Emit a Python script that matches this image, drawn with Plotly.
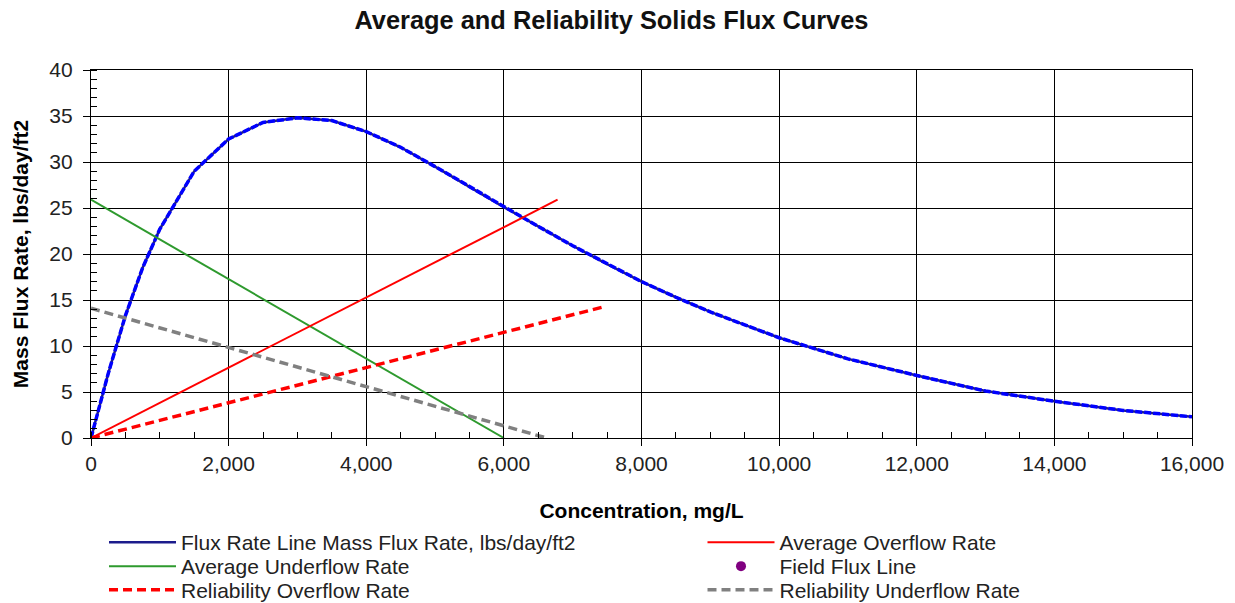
import plotly.graph_objects as go

# Flux curve
flux_x = [0, 250, 500, 750, 1000, 1500, 2000, 2500, 3000, 3500, 4000, 4500, 5000, 5500, 6000,
          6500, 7000, 7500, 8000, 8500, 9000, 9500, 10000, 11000, 12000, 13000, 14000, 15000, 16000]
flux_y = [0, 7.0, 13.3, 18.5, 22.7, 29.0, 32.5, 34.3, 34.8, 34.5, 33.3, 31.6, 29.5, 27.3, 25.1,
          23.0, 20.9, 18.9, 17.0, 15.3, 13.7, 12.3, 10.9, 8.6, 6.8, 5.1, 4.0, 3.0, 2.3]

avg_over_x = [0, 6780]
avg_over_y = [0, 25.9]
avg_under_x = [0, 6000]
avg_under_y = [25.9, 0]
rel_over_x = [0, 7420]
rel_over_y = [0, 14.2]
rel_under_x = [0, 6620]
rel_under_y = [14.1, 0]

FONT = "Liberation Sans, Arial, sans-serif"
FS = 21

fig = go.Figure()
fig.add_trace(go.Scatter(x=flux_x, y=flux_y, mode="lines", name="Flux Rate Line Mass Flux Rate, lbs/day/ft2",
                         line=dict(color="#1c1c8c", width=2.5), legend="legend"))
fig.add_trace(go.Scatter(x=flux_x, y=flux_y, mode="lines", showlegend=False, hoverinfo="skip",
                         line=dict(color="#0000ff", width=3.5, dash="7px,2px")))
fig.add_trace(go.Scatter(x=avg_under_x, y=avg_under_y, mode="lines", name="Average Underflow Rate",
                         line=dict(color="#2e9a2e", width=2), legend="legend2"))
fig.add_trace(go.Scatter(x=rel_over_x, y=rel_over_y, mode="lines", name="Reliability Overflow Rate",
                         line=dict(color="#ff0000", width=3.5, dash="9px,5px"), legend="legend3"))
fig.add_trace(go.Scatter(x=avg_over_x, y=avg_over_y, mode="lines", name="Average Overflow Rate",
                         line=dict(color="#ff0000", width=2), legend="legend4"))
fig.add_trace(go.Scatter(x=[None], y=[None], mode="markers", name="Field Flux Line",
                         marker=dict(color="#800080", size=10), legend="legend5"))
fig.add_trace(go.Scatter(x=rel_under_x, y=rel_under_y, mode="lines", name="Reliability Underflow Rate",
                         line=dict(color="#808080", width=3.5, dash="9px,5px"), legend="legend6"))

L, R, T, B = 91, 43, 70, 165
PW = 1235 - L - R


def leg(xpx, ypx):
    return dict(orientation="v", xref="paper", yref="container",
                x=(xpx - L) / PW, y=1 - ypx / 603, xanchor="left", yanchor="middle",
                font=dict(size=FS, color="#222", family=FONT), itemwidth=67,
                bgcolor="rgba(0,0,0,0)", borderwidth=0)


COL1, COL2 = 104, 702.5
ROWS = [542.5, 566.5, 590]

fig.update_layout(
    width=1235, height=603,
    margin=dict(l=L, r=R, t=T, b=B),
    paper_bgcolor="white", plot_bgcolor="white",
    font=dict(family=FONT, color="#000000", size=FS),
    title=dict(text="<b>Average and Reliability Solids Flux Curves</b>", x=0.4951, xanchor="center",
               y=0.966, yanchor="middle", font=dict(size=25.4, family=FONT, color="#111")),
    xaxis=dict(range=[0, 16000], dtick=2000, tickformat=",d", automargin=False,
               showgrid=True, gridcolor="#000", gridwidth=1.3,
               showline=True, linecolor="#000", linewidth=1.3, mirror=True,
               ticks="outside", ticklen=7, tickcolor="#000",
               minor=dict(dtick=500, ticks="inside", ticklen=6, tickcolor="#000", showgrid=False),
               tickfont=dict(size=FS, color="#222"),
               title=dict(text="<b>Concentration, mg/L</b>", font=dict(size=FS, color="#000"), standoff=30),
               zeroline=False),
    yaxis=dict(range=[0, 40], dtick=5, automargin=False,
               showgrid=True, gridcolor="#000", gridwidth=1.3,
               showline=True, linecolor="#000", linewidth=1.3, mirror=True,
               ticks="outside", ticklen=7, tickcolor="#000", ticklabelstandoff=6,
               minor=dict(dtick=1, ticks="inside", ticklen=6, tickcolor="#000", showgrid=False),
               tickfont=dict(size=FS, color="#222"),
               title=dict(text="<b>Mass Flux Rate, lbs/day/ft2</b>", font=dict(size=FS, color="#000"), standoff=14),
               zeroline=False),
    legend=leg(COL1, ROWS[0]),
    legend2=leg(COL1, ROWS[1]),
    legend3=leg(COL1, ROWS[2]),
    legend4=leg(COL2, ROWS[0]),
    legend5=leg(COL2, ROWS[1]),
    legend6=leg(COL2, ROWS[2]),
)

fig.write_html("out.html", config={"displayModeBar": False},
               post_script="document.body.style.margin='0';")
